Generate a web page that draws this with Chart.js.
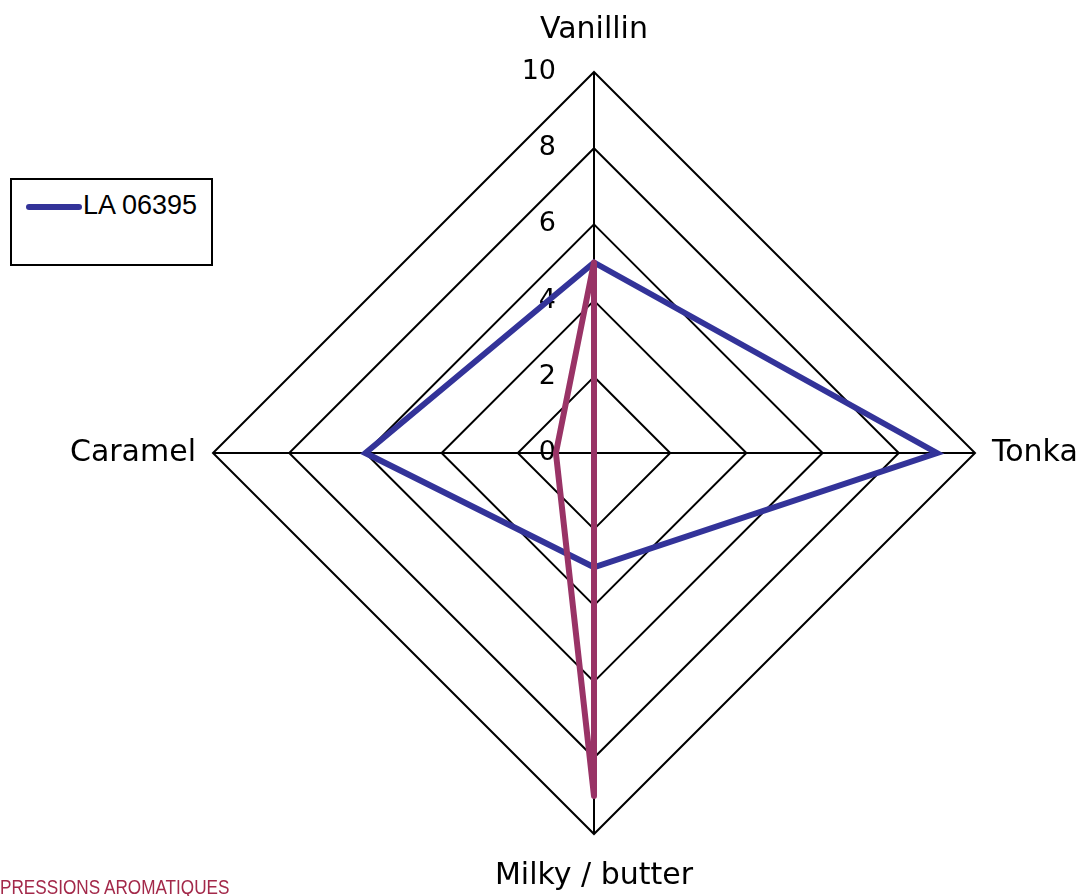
<!DOCTYPE html>
<html>
<head>
<meta charset="utf-8">
<script src="https://cdn.jsdelivr.net/npm/chart.js@4.4.1/dist/chart.umd.min.js"></script>
<style>
    body { margin: 0; background: #fff; overflow: hidden; }
    #wrap { position: relative; width: 1084px; height: 896px; overflow: hidden; }
    #legend {
        position: absolute; left: 10px; top: 178px; width: 203px; height: 88px;
        box-sizing: border-box; border: 2px solid #000; background: #fff;
    }
    #legend .swatch {
        position: absolute; left: 14px; top: 24px; width: 56px; height: 6px;
        border-radius: 3px;
    }
    #legend .txt {
        position: absolute; left: 71px; top: 10px;
        font: 27px "Liberation Sans", Arial, sans-serif; color: #000;
    }
    #footer {
        position: absolute; left: 0; top: 877px; line-height: 20px;
        font-family: "Liberation Sans", Arial, sans-serif; font-size: 19.5px;
        transform: scaleX(0.88); transform-origin: 0 0;
        white-space: nowrap; color: #a3294a;
    }
</style>
</head>
<body>
<div id="wrap">
    <canvas id="myChart" width="1104" height="896"></canvas>
    <div id="legend"><span class="swatch"></span><span class="txt"></span></div>
    <div id="footer">PRESSIONS AROMATIQUES</div>
</div>
<script>
// Données du graphique
var labels = ['Vanillin', 'Tonka', 'Milky / butter', 'Caramel'];
var la06395 = [5, 9, 3, 6];
var secondSample = [5, 0, 9, 1];
var tickValues = [0, 2, 4, 6, 8, 10];

var blue = '#333399',
    maroon = '#993366';

document.querySelector('#legend .swatch').style.background = blue;
document.querySelector('#legend .txt').textContent = 'LA 06395';

// tick labels drawn left of the vertical axis, under the lines
var tickLabels = {
    id: 'tickLabels',
    beforeDatasetsDraw: function (chart) {
        var scale = chart.scales.r,
            ctx = chart.ctx;
        ctx.save();
        ctx.font = '27px "DejaVu Sans"';
        ctx.fillStyle = '#000';
        ctx.textAlign = 'right';
        ctx.textBaseline = 'middle';
        tickValues.forEach(function (v) {
            ctx.fillText(String(v), scale.xCenter - 38, scale.yCenter - scale.getDistanceFromCenterForValue(v));
        });
        ctx.restore();
    }
};

var ctx = document.getElementById('myChart').getContext('2d');
var myChart = new Chart(ctx, {
    type: 'radar',
    data: {
        labels: labels,
        datasets: [{
            label: 'LA 06395',
            data: la06395,
            borderColor: blue,
            borderWidth: 6,
            fill: false,
            pointRadius: 0,
            borderJoinStyle: 'miter',
            order: 2
        },
        {
            label: '',
            data: secondSample,
            borderColor: maroon,
            borderWidth: 6,
            fill: false,
            pointRadius: 0,
            borderJoinStyle: 'round',
            order: 1
        }]
    },
    options: {
        responsive: false,
        animation: false,
        layout: { padding: { left: 44, right: 0, top: 12, bottom: 2 } },
        plugins: {
            legend: { display: false },
            tooltip: { enabled: false }
        },
        scales: {
            r: {
                min: 0,
                max: 10,
                ticks: { stepSize: 2, display: false },
                grid: { color: '#000', lineWidth: 2 },
                angleLines: { color: '#000', lineWidth: 2 },
                pointLabels: {
                    color: '#000',
                    font: { family: 'DejaVu Sans', size: 30 },
                    padding: function (c) { return c.index % 2 === 0 ? 24 : 17; }
                }
            }
        }
    },
    plugins: [tickLabels]
});
</script>
</body>
</html>
